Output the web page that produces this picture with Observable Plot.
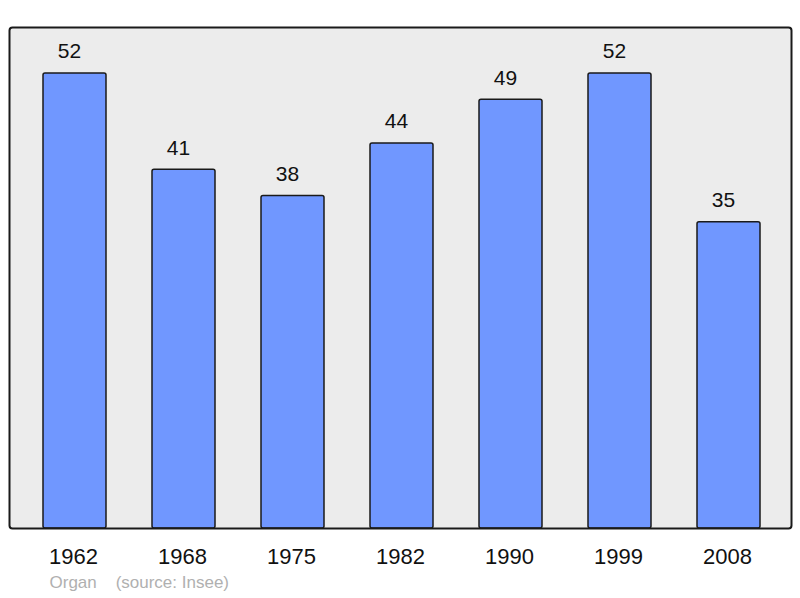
<!DOCTYPE html>
<html><head><meta charset="utf-8">
<script src="https://cdn.jsdelivr.net/npm/d3@7"></script>
<script src="https://cdn.jsdelivr.net/npm/@observablehq/plot@0.6"></script>
<style>body{margin:0;background:#fff;} svg{display:block;}</style>
</head><body>
<div id="chart"></div>
<script>
const years = ["1962","1968","1975","1982","1990","1999","2008"];
const population = [52,41,38,44,49,52,35];
const caption = "Organ\u00a0\u00a0\u00a0\u00a0(source: Insee)";

const data = years.map((y,i)=>({year:y, value:population[i]}));

const chart = Plot.plot({
  width: 800, height: 598,
  marginTop: 27, marginBottom: 70, marginLeft: 9, marginRight: 9,
  style: {fontFamily: "'Liberation Sans', Arial, sans-serif", background: "#fff"},
  x: {domain: years, range: [19, 784], paddingInner: 0.42, paddingOuter: 0.21, label: null},
  y: {domain: [0, 57.26], axis: null},
  marks: [
    Plot.frame({fill: "#ececec", stroke: "none", rx: 3}),
    Plot.barY(data, {x: "year", y: "value", fill: "#7097ff", stroke: "#1a1a1a", strokeWidth: 1.5, rx: 2}),
    Plot.text(data, {x: "year", y: "value", text: d => String(d.value), dy: -22, dx: -5.5, fontSize: 21, fill: "#111"}),
    Plot.frame({stroke: "#1a1a1a", strokeWidth: 2, rx: 3}),
    Plot.axisX({tickSize: 0, tickPadding: 20, fontSize: 22, label: null, color: "#111", dx: -1.5}),
    Plot.text([caption], {frameAnchor: "bottom-left", text: d => d, dx: 40, dy: 59, fontSize: 17, fill: "#b0b0b0", textAnchor: "start"})
  ]
});
document.getElementById("chart").appendChild(chart);
</script>
</body></html>
